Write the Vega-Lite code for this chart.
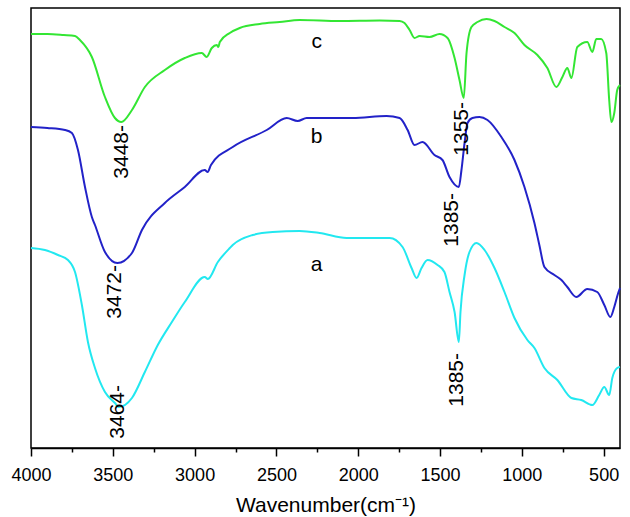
{
  "$schema": "https://vega.github.io/schema/vega-lite/v6.json",
  "width": 589,
  "height": 440,
  "autosize": {"type": "none"},
  "padding": {"left": 31, "top": 8, "right": 10, "bottom": 69},
  "background": "white",
  "config": {
    "view": {"stroke": "black", "strokeWidth": 1.5},
    "font": "Liberation Sans"
  },
  "datasets": {
    "spectra": [
      {"s": "c", "wn": 4000, "t": 414}, {"s": "c", "wn": 3900, "t": 414}, {"s": "c", "wn": 3800, "t": 413},
      {"s": "c", "wn": 3731, "t": 412}, {"s": "c", "wn": 3701, "t": 408}, {"s": "c", "wn": 3628, "t": 391},
      {"s": "c", "wn": 3548, "t": 351}, {"s": "c", "wn": 3487, "t": 330}, {"s": "c", "wn": 3448, "t": 326},
      {"s": "c", "wn": 3383, "t": 338}, {"s": "c", "wn": 3304, "t": 361}, {"s": "c", "wn": 3182, "t": 378},
      {"s": "c", "wn": 3060, "t": 390}, {"s": "c", "wn": 2956, "t": 395}, {"s": "c", "wn": 2926, "t": 391},
      {"s": "c", "wn": 2895, "t": 400}, {"s": "c", "wn": 2864, "t": 403}, {"s": "c", "wn": 2855, "t": 401},
      {"s": "c", "wn": 2846, "t": 406}, {"s": "c", "wn": 2785, "t": 415}, {"s": "c", "wn": 2724, "t": 420},
      {"s": "c", "wn": 2602, "t": 424}, {"s": "c", "wn": 2480, "t": 426}, {"s": "c", "wn": 2358, "t": 428},
      {"s": "c", "wn": 2114, "t": 427}, {"s": "c", "wn": 1869, "t": 427.5}, {"s": "c", "wn": 1747, "t": 427},
      {"s": "c", "wn": 1717, "t": 425}, {"s": "c", "wn": 1686, "t": 418}, {"s": "c", "wn": 1656, "t": 410},
      {"s": "c", "wn": 1625, "t": 412}, {"s": "c", "wn": 1564, "t": 411}, {"s": "c", "wn": 1503, "t": 414},
      {"s": "c", "wn": 1454, "t": 410}, {"s": "c", "wn": 1411, "t": 390}, {"s": "c", "wn": 1381, "t": 368},
      {"s": "c", "wn": 1355, "t": 350}, {"s": "c", "wn": 1338, "t": 395}, {"s": "c", "wn": 1308, "t": 421},
      {"s": "c", "wn": 1271, "t": 426}, {"s": "c", "wn": 1216, "t": 429}, {"s": "c", "wn": 1167, "t": 427},
      {"s": "c", "wn": 1106, "t": 421}, {"s": "c", "wn": 1045, "t": 415}, {"s": "c", "wn": 984, "t": 403},
      {"s": "c", "wn": 905, "t": 393}, {"s": "c", "wn": 844, "t": 380}, {"s": "c", "wn": 789, "t": 361},
      {"s": "c", "wn": 752, "t": 371}, {"s": "c", "wn": 722, "t": 380}, {"s": "c", "wn": 697, "t": 370},
      {"s": "c", "wn": 661, "t": 401}, {"s": "c", "wn": 600, "t": 406}, {"s": "c", "wn": 569, "t": 396},
      {"s": "c", "wn": 545, "t": 409}, {"s": "c", "wn": 515, "t": 409}, {"s": "c", "wn": 484, "t": 395},
      {"s": "c", "wn": 466, "t": 348}, {"s": "c", "wn": 453, "t": 326}, {"s": "c", "wn": 435, "t": 335},
      {"s": "c", "wn": 417, "t": 358}, {"s": "c", "wn": 400, "t": 363},

      {"s": "b", "wn": 4000, "t": 321}, {"s": "b", "wn": 3900, "t": 320}, {"s": "b", "wn": 3792, "t": 318},
      {"s": "b", "wn": 3750, "t": 315}, {"s": "b", "wn": 3713, "t": 298}, {"s": "b", "wn": 3670, "t": 261},
      {"s": "b", "wn": 3628, "t": 231}, {"s": "b", "wn": 3609, "t": 223}, {"s": "b", "wn": 3548, "t": 196},
      {"s": "b", "wn": 3472, "t": 185}, {"s": "b", "wn": 3383, "t": 195}, {"s": "b", "wn": 3322, "t": 218},
      {"s": "b", "wn": 3182, "t": 245}, {"s": "b", "wn": 3060, "t": 261}, {"s": "b", "wn": 2938, "t": 278},
      {"s": "b", "wn": 2920, "t": 276}, {"s": "b", "wn": 2900, "t": 283}, {"s": "b", "wn": 2767, "t": 301},
      {"s": "b", "wn": 2559, "t": 318}, {"s": "b", "wn": 2437, "t": 330}, {"s": "b", "wn": 2370, "t": 327},
      {"s": "b", "wn": 2315, "t": 330}, {"s": "b", "wn": 2034, "t": 330}, {"s": "b", "wn": 1827, "t": 332},
      {"s": "b", "wn": 1747, "t": 330}, {"s": "b", "wn": 1698, "t": 318}, {"s": "b", "wn": 1656, "t": 303},
      {"s": "b", "wn": 1607, "t": 306}, {"s": "b", "wn": 1534, "t": 293}, {"s": "b", "wn": 1485, "t": 288},
      {"s": "b", "wn": 1442, "t": 271}, {"s": "b", "wn": 1385, "t": 261}, {"s": "b", "wn": 1369, "t": 278},
      {"s": "b", "wn": 1350, "t": 305}, {"s": "b", "wn": 1332, "t": 325}, {"s": "b", "wn": 1302, "t": 330},
      {"s": "b", "wn": 1259, "t": 331}, {"s": "b", "wn": 1210, "t": 328}, {"s": "b", "wn": 1125, "t": 311},
      {"s": "b", "wn": 1045, "t": 288}, {"s": "b", "wn": 984, "t": 261}, {"s": "b", "wn": 923, "t": 225},
      {"s": "b", "wn": 893, "t": 203}, {"s": "b", "wn": 862, "t": 181}, {"s": "b", "wn": 801, "t": 173},
      {"s": "b", "wn": 758, "t": 168}, {"s": "b", "wn": 722, "t": 161}, {"s": "b", "wn": 667, "t": 151},
      {"s": "b", "wn": 600, "t": 159}, {"s": "b", "wn": 539, "t": 156}, {"s": "b", "wn": 496, "t": 143},
      {"s": "b", "wn": 459, "t": 131}, {"s": "b", "wn": 435, "t": 141}, {"s": "b", "wn": 411, "t": 155},
      {"s": "b", "wn": 400, "t": 160},

      {"s": "a", "wn": 4000, "t": 200}, {"s": "a", "wn": 3915, "t": 198}, {"s": "a", "wn": 3835, "t": 193},
      {"s": "a", "wn": 3774, "t": 188}, {"s": "a", "wn": 3731, "t": 176}, {"s": "a", "wn": 3689, "t": 143},
      {"s": "a", "wn": 3652, "t": 106}, {"s": "a", "wn": 3609, "t": 80}, {"s": "a", "wn": 3548, "t": 56},
      {"s": "a", "wn": 3487, "t": 45}, {"s": "a", "wn": 3464, "t": 41}, {"s": "a", "wn": 3383, "t": 50},
      {"s": "a", "wn": 3304, "t": 76}, {"s": "a", "wn": 3225, "t": 103}, {"s": "a", "wn": 3139, "t": 126},
      {"s": "a", "wn": 3060, "t": 146}, {"s": "a", "wn": 2938, "t": 171}, {"s": "a", "wn": 2919, "t": 169},
      {"s": "a", "wn": 2858, "t": 186}, {"s": "a", "wn": 2785, "t": 200}, {"s": "a", "wn": 2767, "t": 203},
      {"s": "a", "wn": 2645, "t": 213}, {"s": "a", "wn": 2523, "t": 216}, {"s": "a", "wn": 2358, "t": 217},
      {"s": "a", "wn": 2236, "t": 215}, {"s": "a", "wn": 2071, "t": 210}, {"s": "a", "wn": 1930, "t": 210},
      {"s": "a", "wn": 1808, "t": 210}, {"s": "a", "wn": 1729, "t": 201}, {"s": "a", "wn": 1674, "t": 180},
      {"s": "a", "wn": 1643, "t": 170}, {"s": "a", "wn": 1613, "t": 180}, {"s": "a", "wn": 1576, "t": 188},
      {"s": "a", "wn": 1515, "t": 183}, {"s": "a", "wn": 1473, "t": 176}, {"s": "a", "wn": 1442, "t": 156},
      {"s": "a", "wn": 1411, "t": 136}, {"s": "a", "wn": 1385, "t": 106}, {"s": "a", "wn": 1375, "t": 136},
      {"s": "a", "wn": 1350, "t": 173}, {"s": "a", "wn": 1320, "t": 196}, {"s": "a", "wn": 1277, "t": 205},
      {"s": "a", "wn": 1228, "t": 198}, {"s": "a", "wn": 1167, "t": 180}, {"s": "a", "wn": 1106, "t": 156},
      {"s": "a", "wn": 1045, "t": 130}, {"s": "a", "wn": 966, "t": 108}, {"s": "a", "wn": 923, "t": 100},
      {"s": "a", "wn": 862, "t": 80}, {"s": "a", "wn": 783, "t": 68}, {"s": "a", "wn": 697, "t": 50},
      {"s": "a", "wn": 637, "t": 48}, {"s": "a", "wn": 569, "t": 43}, {"s": "a", "wn": 527, "t": 53},
      {"s": "a", "wn": 496, "t": 61}, {"s": "a", "wn": 466, "t": 53}, {"s": "a", "wn": 447, "t": 70},
      {"s": "a", "wn": 417, "t": 80}, {"s": "a", "wn": 400, "t": 81}
    ],
    "peaks": [
      {"label": "3448-", "wn": 3444, "t": 323},
      {"label": "3472-", "wn": 3487, "t": 183},
      {"label": "3464-", "wn": 3469, "t": 63},
      {"label": "1355-", "wn": 1363, "t": 346},
      {"label": "1385-", "wn": 1424, "t": 255},
      {"label": "1385-", "wn": 1399, "t": 95}
    ],
    "names": [
      {"label": "c", "wn": 2254, "t": 406},
      {"label": "b", "wn": 2254, "t": 311},
      {"label": "a", "wn": 2254, "t": 183}
    ]
  },
  "layer": [
    {
      "data": {"name": "spectra"},
      "mark": {"type": "line", "strokeWidth": 2, "interpolate": "monotone"},
      "encoding": {
        "x": {
          "field": "wn", "type": "quantitative",
          "scale": {"domain": [4000, 400], "nice": false, "zero": false},
          "axis": {
            "values": [4000, 3750, 3500, 3250, 3000, 2750, 2500, 2250, 2000, 1750, 1500, 1250, 1000, 750, 500],
            "labelExpr": "datum.value % 500 === 0 ? datum.value : ''",
            "tickSize": {"condition": {"test": "datum.value % 500 === 0", "value": 8}, "value": 4},
            "tickColor": "black",
            "tickWidth": 1.5,
            "domainColor": "black",
            "domainWidth": 1.5,
            "labelColor": "black",
            "labelFontSize": 18,
            "labelPadding": 10,
            "labelOverlap": false,
            "labelFlush": false,
            "grid": false,
            "title": "Wavenumber(cm⁻¹)",
            "titleFontSize": 21,
            "titleFontWeight": "normal",
            "titleColor": "black",
            "titlePadding": 10
          }
        },
        "y": {
          "field": "t", "type": "quantitative",
          "scale": {"domain": [0, 440], "nice": false},
          "axis": null
        },
        "color": {
          "field": "s", "type": "nominal",
          "scale": {"domain": ["a", "b", "c"], "range": ["#22e8f0", "#2222c8", "#33e633"]},
          "legend": null
        }
      }
    },
    {
      "data": {"name": "peaks"},
      "mark": {"type": "text", "angle": 270, "align": "right", "baseline": "middle", "fontSize": 21, "color": "black"},
      "encoding": {
        "x": {"field": "wn", "type": "quantitative"},
        "y": {"field": "t", "type": "quantitative"},
        "text": {"field": "label"}
      }
    },
    {
      "data": {"name": "names"},
      "mark": {"type": "text", "align": "center", "baseline": "middle", "fontSize": 21, "color": "black"},
      "encoding": {
        "x": {"field": "wn", "type": "quantitative"},
        "y": {"field": "t", "type": "quantitative"},
        "text": {"field": "label"}
      }
    }
  ]
}
